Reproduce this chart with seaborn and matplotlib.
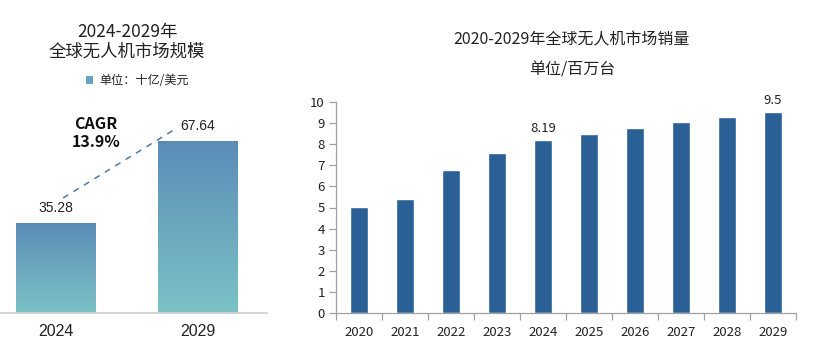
import matplotlib
matplotlib.use("Agg")
import matplotlib.pyplot as plt
import seaborn as sns
import numpy as np
import pandas as pd
from matplotlib.colors import LinearSegmentedColormap

sns.set_theme(style="white")
plt.rcParams['font.family'] = ['Noto Sans CJK SC', 'DejaVu Sans']

# ---- data ----
market_years = ["2024", "2029"]
market_values = [35.28, 67.64]
market_labels = ["35.28", "67.64"]
cagr_text = "CAGR\n13.9%"

sales_years = ["2020", "2021", "2022", "2023", "2024", "2025", "2026", "2027", "2028", "2029"]
sales_values = [5.04, 5.39, 6.76, 7.56, 8.19, 8.47, 8.76, 9.02, 9.28, 9.5]
sales_label_years = ["2024", "2029"]
sales_label_text = {"2024": "8.19", "2029": "9.5"}

W, H = 832, 354
fig = plt.figure(figsize=(W / 100, H / 100), dpi=100)

# ---- left chart ----
axL = fig.add_axes([0, (H - 312.7) / H, 267 / W, 212.7 / H])
dfL = pd.DataFrame({"year": market_years, "value": market_values})
sns.barplot(data=dfL, x="year", y="value", ax=axL, width=0.565, color="#6aa3bd", saturation=1)
axL.set_xlim(-0.396, 1.49)
axL.set_ylim(0, 83.7)
cmap = LinearSegmentedColormap.from_list("g", ["#7cc2c6", "#5b8cb7"])
grad = np.linspace(0, 1, 256).reshape(-1, 1)
for p in axL.patches:
    x0, y0 = p.get_x(), p.get_y()
    w, h = p.get_width(), p.get_height()
    im = axL.imshow(grad, cmap=cmap, origin="lower", aspect="auto",
                    extent=[x0, x0 + w, y0, y0 + h], zorder=p.get_zorder() + 0.1)
    im.set_clip_path(p)
axL.set_xlim(-0.396, 1.49)
axL.set_ylim(0, 83.7)
for i, (v, t) in enumerate(zip(market_values, market_labels)):
    axL.text(i, v + 3, t, ha="center", va="bottom", fontsize=10, color="#222222",
             family=["Liberation Sans", "DejaVu Sans"])
axL.plot([0.05, 0.855], [market_values[0] * 1.28, market_values[1] * 1.075],
         ls=(0, (4, 4)), color="#56789a", lw=1.1)
axL.text(0.28, 70.7, cagr_text, ha="center", va="center", fontsize=11.5, fontweight="bold",
         color="#111111", linespacing=1.1)
for s in ["top", "left", "right"]:
    axL.spines[s].set_visible(False)
axL.spines["bottom"].set_color("#d0d0d0")
axL.set_yticks([])
axL.set_xlabel("")
axL.set_ylabel("")
axL.tick_params(axis="x", length=0, pad=8, labelsize=11.5, labelcolor="#222222")
for lb in axL.get_xticklabels():
    lb.set_family(["Liberation Sans", "DejaVu Sans"])

fig.text(127 / W, 1 - 32 / H, "2024-2029年", ha="center", va="center", fontsize=12.5, color="#222222")
fig.text(127 / W, 1 - 52 / H, "全球无人机市场规模", ha="center", va="center", fontsize=12.5, color="#222222")
fig.patches.append(plt.Rectangle((86 / W, 1 - 84 / H), 7 / W, 8 / H, transform=fig.transFigure,
                                 facecolor="#6aa3bd", edgecolor="none"))
fig.text(99 / W, 1 - 80 / H, "单位：十亿/美元", ha="left", va="center", fontsize=8.7, color="#222222")

# ---- right chart ----
axR = fig.add_axes([336 / W, (H - 313.3) / H, (796 - 336) / W, (313.3 - 101.7) / H])
dfR = pd.DataFrame({"year": sales_years, "value": sales_values})
sns.barplot(data=dfR, x="year", y="value", ax=axR, width=0.4, color="#2a6096", saturation=1)
axR.set_xlim(-0.5, len(sales_years) - 0.5)
axR.set_ylim(0, 10)
axR.set_yticks(range(0, 11))
for y in sales_label_years:
    i = sales_years.index(y)
    axR.text(i, sales_values[i] + 0.25, sales_label_text[y], ha="center", va="bottom",
             fontsize=9.5, color="#222222")
for s in ["top", "right"]:
    axR.spines[s].set_visible(False)
for s in ["left", "bottom"]:
    axR.spines[s].set_color("#a0a0a0")
    axR.spines[s].set_linewidth(0.9)
axR.set_xlabel("")
axR.set_ylabel("")
axR.tick_params(axis="y", length=5, width=0.9, color="#a0a0a0", left=True, labelsize=9.5,
                labelcolor="#222222", pad=3)
axR.tick_params(axis="x", length=0, labelsize=9.5, labelcolor="#222222", pad=9)
axR.set_xticks(np.arange(-0.5, len(sales_years), 1), minor=True)
axR.tick_params(axis="x", which="minor", length=5, width=0.9, color="#a0a0a0", bottom=True)

fig.text(572 / W, 1 - 40 / H, "2020-2029年全球无人机市场销量", ha="center", va="center",
         fontsize=11.5, color="#222222")
fig.text(572 / W, 1 - 70 / H, "单位/百万台", ha="center", va="center", fontsize=11.5, color="#222222")

fig.savefig("out.png", dpi=100)
